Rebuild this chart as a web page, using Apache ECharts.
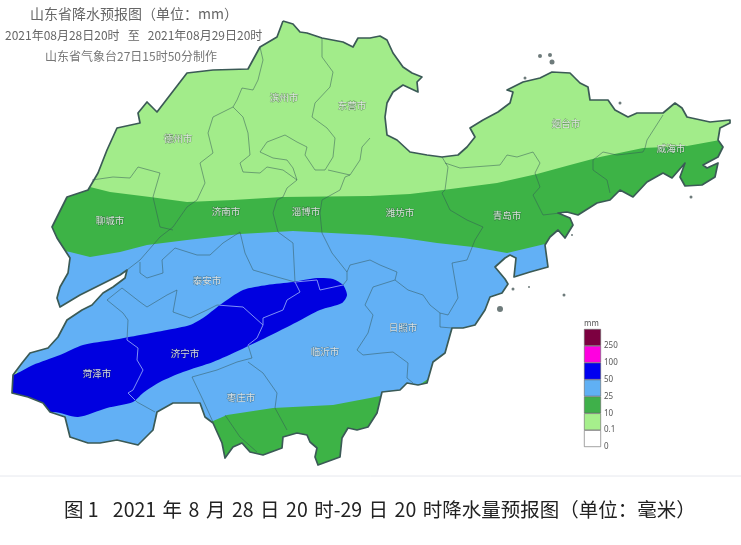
<!DOCTYPE html>
<html>
<head>
<meta charset="utf-8">
<style>html,body{margin:0;padding:0;background:#fff}#chart{width:741px;height:545px}</style>
<script src="https://cdn.jsdelivr.net/npm/echarts@6/dist/echarts.min.js"></script>
</head>
<body>
<div id="chart"></div>
<script>
var CJK='"Noto Sans CJK SC"';
// province outline
var outline=[[283,21],[293,24],[300,32],[307,33],[322,38],[343,42],[353,47],[358,38],[370,38],[380,36],[387,40],[393,53],[403,67],[412,73],[422,77],[417,82],[418,92],[403,85],[393,92],[387,103],[385,117],[387,135],[397,140],[410,152],[427,155],[442,157],[458,155],[467,147],[475,137],[470,128],[483,120],[498,112],[510,103],[513,92],[507,90],[523,82],[540,78],[552,72],[570,73],[580,83],[588,87],[590,100],[608,100],[615,110],[628,117],[637,113],[663,113],[675,103],[682,108],[687,117],[710,122],[730,120],[730,123],[720,128],[718,140],[723,147],[718,157],[703,165],[707,168],[718,163],[715,177],[702,185],[685,186],[680,177],[685,163],[672,178],[663,173],[647,182],[633,197],[620,190],[610,200],[597,203],[578,215],[567,212],[558,213],[570,218],[573,225],[565,238],[558,230],[550,237],[545,245],[548,267],[530,272],[514,277],[516,258],[510,255],[505,258],[495,267],[505,279],[508,284],[502,293],[490,297],[485,310],[475,325],[463,328],[452,328],[445,353],[433,362],[427,383],[418,385],[407,383],[400,390],[382,392],[377,413],[368,427],[357,430],[348,428],[342,438],[340,457],[318,465],[315,457],[317,448],[310,442],[307,435],[297,433],[283,437],[282,448],[263,455],[250,452],[242,443],[233,447],[225,458],[222,443],[213,423],[205,417],[200,403],[190,403],[173,403],[157,412],[153,430],[138,445],[117,440],[100,443],[88,443],[70,437],[65,417],[50,412],[43,403],[28,397],[12,393],[13,375],[22,363],[30,353],[48,348],[58,337],[67,320],[82,310],[92,305],[103,293],[113,287],[125,278],[127,270],[120,275],[100,285],[80,295],[60,307],[57,298],[60,287],[68,273],[70,258],[57,238],[52,227],[67,197],[88,190],[98,173],[107,150],[117,128],[140,123],[138,113],[147,102],[157,112],[187,73],[213,70],[248,69],[260,47],[277,37]];
// rain band edges, west to east
var edge10North=[[40,183],[90,187],[110,192],[150,197],[187,202],[233,200],[283,197],[370,196],[410,194],[443,190],[497,183],[537,174],[570,165],[600,157],[643,148],[687,146],[720,140],[741,135]];
var edge25=[[30,245],[70,252],[90,257],[120,252],[147,245],[187,240],[240,234],[293,231],[370,235],[403,238],[437,243],[473,247],[507,253],[545,244],[560,240]];
var edge10South=[[195,428],[213,421],[227,415],[273,408],[333,405],[370,398],[380,396],[400,392],[418,386],[432,376]];
var heavyBlob=[[0,375],[13,375],[33,365],[60,355],[83,345],[113,340],[140,335],[167,330],[190,325],[203,318],[220,305],[243,290],[267,285],[293,282],[317,278],[333,279],[343,285],[347,295],[342,303],[320,310],[297,322],[267,337],[240,350],[213,362],[183,372],[160,382],[143,393],[133,402],[107,408],[78,417],[53,412],[40,420],[0,400]];
// city boundaries
var boundaries=[
[[322,38],[322,57],[333,72],[330,87],[315,103],[312,117],[327,128],[335,138],[333,157],[325,170],[315,170],[305,155],[307,147],[297,142],[285,135],[267,142],[260,152],[273,158],[287,160],[293,168],[297,180],[287,188],[283,197],[277,200],[273,213],[278,232],[293,243],[295,282]],
[[260,47],[263,60],[258,80],[253,90],[242,88],[237,100],[233,107],[243,117],[248,133],[250,155],[240,163],[243,172],[260,173],[267,167],[283,170],[297,180]],
[[233,107],[213,117],[208,133],[213,153],[200,163],[205,183],[197,200],[187,207],[173,227],[160,237],[140,260],[127,270]],
[[92,180],[113,177],[130,178],[138,167],[160,173],[153,197],[160,227],[173,230]],
[[140,262],[140,273],[147,278],[163,273],[162,260],[175,248],[197,255],[210,255],[223,243],[240,232]],
[[240,232],[245,253],[253,270],[277,277],[295,282],[300,292],[287,300],[283,310],[263,318]],
[[370,138],[362,147],[360,160],[350,175],[328,170]],
[[350,175],[345,177],[340,190],[322,200],[320,213],[322,233],[332,253],[347,272],[347,280],[343,285],[320,290],[317,280],[295,282]],
[[347,272],[350,265],[370,260],[380,265],[397,272],[395,280],[408,290],[423,295],[430,305],[440,313],[448,315],[458,298],[452,263],[467,260],[475,240],[483,227],[467,220],[450,210],[442,193],[445,190],[448,167],[442,157]],
[[395,280],[373,287],[365,305],[373,315],[368,333],[357,350],[363,355],[382,353],[393,352],[408,363],[407,378],[413,383]],
[[440,313],[440,327],[452,328]],
[[663,115],[647,140],[645,148],[643,152],[617,155],[603,152],[593,160],[593,170],[607,180],[610,193]],
[[445,163],[460,168],[500,165],[507,155],[517,157],[533,152],[540,163],[535,173],[540,187],[533,195],[543,215],[560,213]],
[[127,340],[128,320],[123,313],[107,300]],
[[122,288],[140,302],[147,307],[167,295],[177,290],[173,312],[190,318],[207,310],[217,305],[243,307],[263,325],[257,338],[248,345],[252,358],[237,362],[217,370],[192,377],[203,400],[213,422]],
[[122,288],[107,300]],
[[127,340],[138,348],[137,360],[143,370],[133,390],[128,393],[137,402],[155,412]],
[[248,362],[263,373],[277,393],[275,408],[287,430]],
[[225,415],[240,437],[257,452]],
[[263,318],[263,325]]
];
var islands=[[540,56],[550,55],[552,62],[525,78],[620,103],[691,197],[572,235],[500,309],[513,289],[529,287],[564,295]];
var islandSizes=[4,4,5,3,3,3,2,6,3,2,3];
var cityNames=['滨州市','东营市','德州市','聊城市','济南市','淄博市','潍坊市','青岛市','烟台市','威海市','泰安市','济宁市','菏泽市','枣庄市','临沂市','日照市'];
var cityPoints=[[284,97],[352,105],[178,138],[110,220],[226,211],[306,211],[400,212],[507,215],[566,123],[671,148],[207,280],[185,353],[97,373],[241,397],[325,351],[403,327]];
// legend
var legendTicks=['0','0.1','10','25','50','100','250'];
var legendColors=['#ffffff','#a6ef8c','#3fb04a','#60b0f4','#0000f0','#ff00e0','#7c0040'];
var colLight='#a2ec8a',colGreen='#3db346',colBlue='#62b0f5',colHeavy='#0000e0';
var titleMain='山东省降水预报图（单位：mm）';
var titleRange='2021年08月28日20时   至   2021年08月29日20时';
var titleMaker='山东省气象台27日15时50分制作';
var caption='图 1\u2002 2021\u2004年\u20048\u2004月\u200428\u2004日\u200420\u2004时-29\u2004日\u200420\u2004时降水量预报图（单位：毫米）';

var myChart=echarts.init(document.getElementById('chart'));

function toPx(api,pts){
	var out=[];
	for(var i=0;i<pts.length;i++){
		out.push(api.coord(pts[i]));
	}
	return out;
}
// one custom series per drawn layer, all on the hidden page axes
function polySeries(pts,color,clipPts,smooth){
	return {
		type:'custom',coordinateSystem:'cartesian2d',xAxisIndex:0,yAxisIndex:0,silent:true,clip:false,
		data:[[0,0]],
		renderItem:function(params,api){
			return {
				type:'polygon',
				shape:{points:toPx(api,pts),smooth:smooth||0},
				style:{fill:color},
				clipPath:clipPts?{type:'polygon',shape:{points:toPx(api,clipPts)}}:undefined
			};
		}
	};
}
function lineSeries(lines,color,width,clipPts){
	return {
		type:'custom',coordinateSystem:'cartesian2d',xAxisIndex:0,yAxisIndex:0,silent:true,clip:false,
		data:lines.map(function(l,i){return [i,0];}),
		renderItem:function(params,api){
			var el={
				type:'polyline',
				shape:{points:toPx(api,lines[params.dataIndex])},
				style:{fill:null,stroke:color,lineWidth:width,lineJoin:'round'}
			};
			if(clipPts){
				el.clipPath={type:'polygon',shape:{points:toPx(api,clipPts)}};
			}
			return el;
		}
	};
}
function below(edge){
	return edge.concat([[741,545],[0,545]]);
}

var series=[
	polySeries(outline,colLight),
	polySeries(below(edge10North),colGreen,outline),
	polySeries(below(edge25),colBlue,outline),
	polySeries(below(edge10South),colGreen,outline),
	lineSeries(boundaries,'rgba(50,85,85,0.5)',1),
	polySeries(heavyBlob,colHeavy,outline,0.25),
	lineSeries(boundaries,'#7f90f5',1,heavyBlob),
	lineSeries([outline.concat([outline[0]])],'#3b5a56',1.7),
	{
		type:'scatter',xAxisIndex:0,yAxisIndex:0,silent:true,symbol:'circle',
		data:islands.map(function(p,i){return {value:p,symbolSize:islandSizes[i]};}),
		itemStyle:{color:'#4a5a5a'}
	},
	{
		type:'scatter',xAxisIndex:0,yAxisIndex:0,silent:true,symbolSize:0,
		data:cityPoints.map(function(p,i){return {value:p,name:cityNames[i]};}),
		label:{show:true,position:'inside',formatter:'{b}',fontFamily:CJK,fontSize:9.5,color:'#fff',textBorderColor:'rgba(40,60,50,0.6)',textBorderWidth:0.8}
	}
];
// legend column: stacked unit cells on its own small grid
for(var i=0;i<legendColors.length;i++){
	series.push({
		type:'bar',xAxisIndex:1,yAxisIndex:1,stack:'legend',silent:true,barWidth:'100%',
		data:[1],
		itemStyle:{color:legendColors[i],borderColor:'#666',borderWidth:0.6}
	});
}

var option={
	animation:false,
	backgroundColor:'#fff',
	title:[
		{text:titleMain,left:30,top:7,padding:0,textStyle:{fontFamily:CJK,fontSize:14,fontWeight:'normal',color:'#666'}},
		{text:titleRange,left:5,top:29,padding:0,textStyle:{fontFamily:CJK,fontSize:12,fontWeight:'normal',color:'#666'}},
		{text:titleMaker,left:45,top:50,padding:0,textStyle:{fontFamily:CJK,fontSize:12,fontWeight:'normal',color:'#777'}},
		{text:caption,left:64,top:500,padding:0,textStyle:{fontFamily:CJK,fontSize:19.5,fontWeight:'normal',color:'#222'}},
		{text:'mm',left:584,top:319,padding:0,textStyle:{fontFamily:CJK,fontSize:8,fontWeight:'normal',color:'#555'}}
	],
	grid:[
		{left:0,top:0,right:0,bottom:0},
		{left:584,top:329,width:17,height:118}
	],
	xAxis:[
		{type:'value',min:0,max:741,show:false},
		{type:'category',gridIndex:1,data:['mm'],show:false}
	],
	yAxis:[
		{type:'value',min:0,max:545,inverse:true,show:false},
		{
			type:'value',gridIndex:1,min:0,max:7,interval:1,position:'right',
			axisLine:{show:false},axisTick:{show:false},splitLine:{show:false},
			axisLabel:{
				margin:3,fontSize:8,color:'#555',fontFamily:'"Noto Sans"',padding:[3,0,0,0],
				formatter:function(v){return legendTicks[v]===undefined?'':legendTicks[v];}
			}
		}
	],
	graphic:[{type:'line',shape:{x1:0,y1:476,x2:741,y2:476},style:{stroke:'#e6e8ee',lineWidth:1},silent:true}],
	series:series
};
myChart.setOption(option);
</script>
</body>
</html>
